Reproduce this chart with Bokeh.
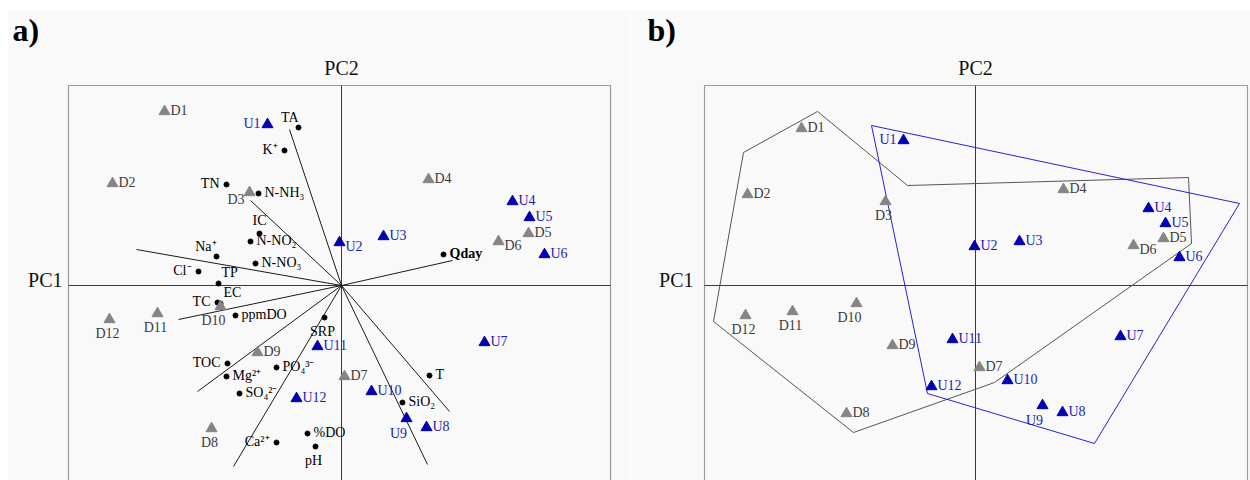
from bokeh.plotting import figure
from bokeh.models import Range1d
from bokeh.layouts import row
from bokeh.embed import file_html
from bokeh.resources import INLINE
from bokeh.core.properties import value

# ---------------- Panel a data ----------------
a_d_names = ["D1", "D2", "D3", "D4", "D5", "D6", "D7", "D8", "D9", "D10", "D11", "D12"]
a_d_x = [-1.77, -2.29, -0.92, 0.87, 1.87, 1.57, 0.03, -1.30, -0.84, -1.21, -1.84, -2.32]
a_d_y = [1.74, 1.02, 0.93, 1.06, 0.52, 0.44, -0.91, -1.43, -0.67, -0.21, -0.28, -0.34]

a_u_names = ["U1", "U2", "U3", "U4", "U5", "U6", "U7", "U8", "U9", "U10", "U11", "U12"]
a_u_x = [-0.74, -0.02, 0.42, 1.71, 1.88, 2.03, 1.43, 0.85, 0.65, 0.30, -0.24, -0.45]
a_u_y = [1.61, 0.43, 0.49, 0.84, 0.68, 0.31, -0.57, -1.42, -1.33, -1.06, -0.61, -1.13]

var_names = ["TA", "K⁺", "TN", "N-NH₃", "IC", "N-NO₂", "Na⁺", "N-NO₃", "Cl⁻", "TP",
             "TC", "EC", "ppmDO", "SRP", "TOC", "Mg²⁺", "PO₄³⁻", "SO₄²⁻", "Ca²⁺",
             "%DO", "pH", "Qday", "T", "SiO₂"]
var_x = [-0.43, -0.57, -1.15, -0.83, -0.82, -0.91, -1.25, -0.86, -1.43, -1.23,
         -1.24, -1.21, -1.06, -0.17, -1.14, -1.15, -0.65, -1.02, -0.65,
         -0.34, -0.26, 1.02, 0.88, 0.61]
var_y = [1.58, 1.35, 1.01, 0.92, 0.52, 0.44, 0.29, 0.22, 0.14, 0.02,
         -0.17, -0.18, -0.30, -0.32, -0.78, -0.91, -0.82, -1.08, -1.57,
         -1.48, -1.61, 0.31, -0.90, -1.17]

# loading vectors (end points, drawn from the origin)
vec_x = [-0.52, -0.91, -2.05, -1.63, -1.44, -1.08, 1.11, 1.08, 0.86]
vec_y = [1.56, 0.85, 0.36, -0.34, -1.06, -1.81, 0.25, -1.26, -1.79]

# ---------------- Panel b data ----------------
b_d_names = a_d_names
b_d_x = [-1.74, -2.28, -0.90, 0.88, 1.88, 1.58, 0.04, -1.29, -0.83, -1.19, -1.83, -2.30]
b_d_y = [1.57, 0.91, 0.84, 0.96, 0.47, 0.40, -0.82, -1.28, -0.60, -0.18, -0.26, -0.30]

b_u_names = a_u_names
b_u_x = [-0.72, -0.01, 0.44, 1.73, 1.90, 2.04, 1.45, 0.87, 0.67, 0.32, -0.23, -0.44]
b_u_y = [1.45, 0.39, 0.44, 0.77, 0.62, 0.28, -0.51, -1.27, -1.20, -0.95, -0.54, -1.01]

hull_d_x = [-1.58, -0.68, 2.13, 2.16, 0.19, -1.22, -2.62, -2.32, -1.58]
hull_d_y = [1.74, 1.00, 1.08, 0.42, -0.97, -1.47, -0.36, 1.33, 1.74]
hull_u_x = [-1.04, 2.64, 1.19, -0.48, -1.04]
hull_u_y = [1.60, 0.82, -1.58, -1.08, 1.60]

# ---------------- label placement (style) ----------------
a_d_pos = ["r", "r", "bl", "r", "r", "rb", "r", "b", "r", "bc", "b", "b"]
a_u_pos = ["l", "rb", "r", "r", "r", "r", "r", "r", "bc9", "r", "r", "r"]
var_pos = ["al", "l", "l", "r", "a", "r", "al", "r", "l", "ar",
           "l", "ar", "r", "b", "l", "r", "r", "r", "l",
           "r", "b", "r", "r", "r"]
b_d_pos = ["r", "r", "b", "r", "r", "rb", "r", "r", "r", "bc", "b", "b"]
b_u_pos = ["l", "r", "r", "r", "r", "r", "r", "r", "bc9", "r", "r", "r"]

POS = {
    "r": (6, -1, "left", "middle"),
    "rb": (6, 4, "left", "middle"),
    "l": (-7, -1, "right", "middle"),
    "b": (-2, 6, "center", "top"),
    "bc": (-7, 6, "center", "top"),
    "bc9": (-8, 7, "center", "top"),
    "bl": (-5, 7, "right", "middle"),
    "a": (0, -6, "center", "bottom"),
    "al": (0, -3, "right", "bottom"),
    "ar": (3, -4, "left", "bottom"),
}

FONT = "Liberation Serif"
BG = "#f9f9f9"
GREY_M = "#858585"
GREY_T = "#3c3c3c"
BLUE_M = "#0000b0"
BLUE_T = "#1c1cb4"
H = 480
PX = 100.0            # pixels per score unit
ORIGIN_Y = 285        # canvas row of PC1 axis
YTOP = 2.00           # top edge of the plot box
YCAN_TOP = ORIGIN_Y / PX
YCAN_BOT = -(H - ORIGIN_Y) / PX


def add_labels(p, names, xs, ys, codes, color, bold_names=()):
    for code in POS:
        idx = [i for i, c in enumerate(codes) if c == code]
        if not idx:
            continue
        xo, yo, al, bl = POS[code]
        for style in ("normal", "bold"):
            sel = [i for i in idx if (names[i] in bold_names) == (style == "bold")]
            if not sel:
                continue
            p.text(x=[xs[i] for i in sel], y=[ys[i] for i in sel],
                   text=[names[i] for i in sel], x_offset=xo, y_offset=yo,
                   text_align=al, text_baseline=bl, text_font=value(FONT),
                   text_font_size="14px", text_color=color, text_font_style=style)


def make_fig(width, origin_x, box_l, box_r, grey_l, tag, tag_x, pc1_x):
    x0 = -origin_x / PX
    x1 = (width - origin_x) / PX
    p = figure(width=width, height=H, x_range=Range1d(x0, x1),
               y_range=Range1d(YCAN_BOT, YCAN_TOP),
               x_axis_type=None, y_axis_type=None, toolbar_location=None,
               output_backend="svg", min_border=0)
    p.background_fill_color = "white"
    p.border_fill_color = "white"
    p.outline_line_color = None
    p.grid.visible = False
    # light page background below the white strip at the top
    p.quad(left=grey_l, right=x1, bottom=YCAN_BOT, top=YCAN_TOP - 10 / PX,
           fill_color=BG, line_color=None)
    # plot box (left, right, top) and principal axes
    p.segment(x0=[box_l, box_r, box_l], y0=[YTOP, YTOP, YTOP],
              x1=[box_l, box_r, box_r], y1=[YCAN_BOT, YCAN_BOT, YTOP],
              line_color="#9a9a9a", line_width=1.2)
    p.segment(x0=[box_l, 0], y0=[0, YTOP], x1=[box_r, 0], y1=[0, YCAN_BOT],
              line_color="#3a3a3a", line_width=1)
    # panel tag and axis names
    p.text(x=[tag_x], y=[YCAN_TOP - 29 / PX], text=[tag], text_font=value(FONT),
           text_font_size="32px", text_font_style="bold", text_baseline="middle",
           text_align="left", text_color="black")
    p.text(x=[0], y=[YCAN_TOP - 67 / PX], text=["PC2"], text_font=value(FONT),
           text_font_size="20px", text_baseline="middle", text_align="center",
           text_color="#111111")
    p.text(x=[pc1_x], y=[0.06], text=["PC1"], text_font=value(FONT),
           text_font_size="20px", text_baseline="middle", text_align="right",
           text_color="#111111")
    return p


# ---------------- Panel a ----------------
pa = make_fig(630, 341, -2.73, 2.69, -3.33, "a)", -3.29, -2.79)
pa.segment(x0=[0] * len(vec_x), y0=[0] * len(vec_y), x1=vec_x, y1=vec_y,
           line_color="#1a1a1a", line_width=1)
pa.scatter(var_x, var_y, marker="circle", size=5, fill_color="black", line_color="black")
pa.scatter(a_d_x, a_d_y, marker="triangle", size=11, fill_color=GREY_M, line_color=GREY_M)
pa.scatter(a_u_x, a_u_y, marker="triangle", size=11, fill_color=BLUE_M, line_color=BLUE_M)
add_labels(pa, var_names, var_x, var_y, var_pos, "black", bold_names=("Qday",))
add_labels(pa, a_d_names, a_d_x, a_d_y, a_d_pos, GREY_T)
add_labels(pa, a_u_names, a_u_x, a_u_y, a_u_pos, BLUE_T)

# ---------------- Panel b ----------------
pb = make_fig(620, 345, -2.71, 2.72, -3.45, "b)", -3.28, -2.82)
pb.line(hull_d_x, hull_d_y, line_color="#555555", line_width=1)
pb.line(hull_u_x, hull_u_y, line_color="#2424cc", line_width=1)
pb.scatter(b_d_x, b_d_y, marker="triangle", size=11, fill_color=GREY_M, line_color=GREY_M)
pb.scatter(b_u_x, b_u_y, marker="triangle", size=11, fill_color=BLUE_M, line_color=BLUE_M)
add_labels(pb, b_d_names, b_d_x, b_d_y, b_d_pos, GREY_T)
add_labels(pb, b_u_names, b_u_x, b_u_y, b_u_pos, BLUE_T)

layout = row(pa, pb)
open("out.html", "w").write(file_html(layout, INLINE))
